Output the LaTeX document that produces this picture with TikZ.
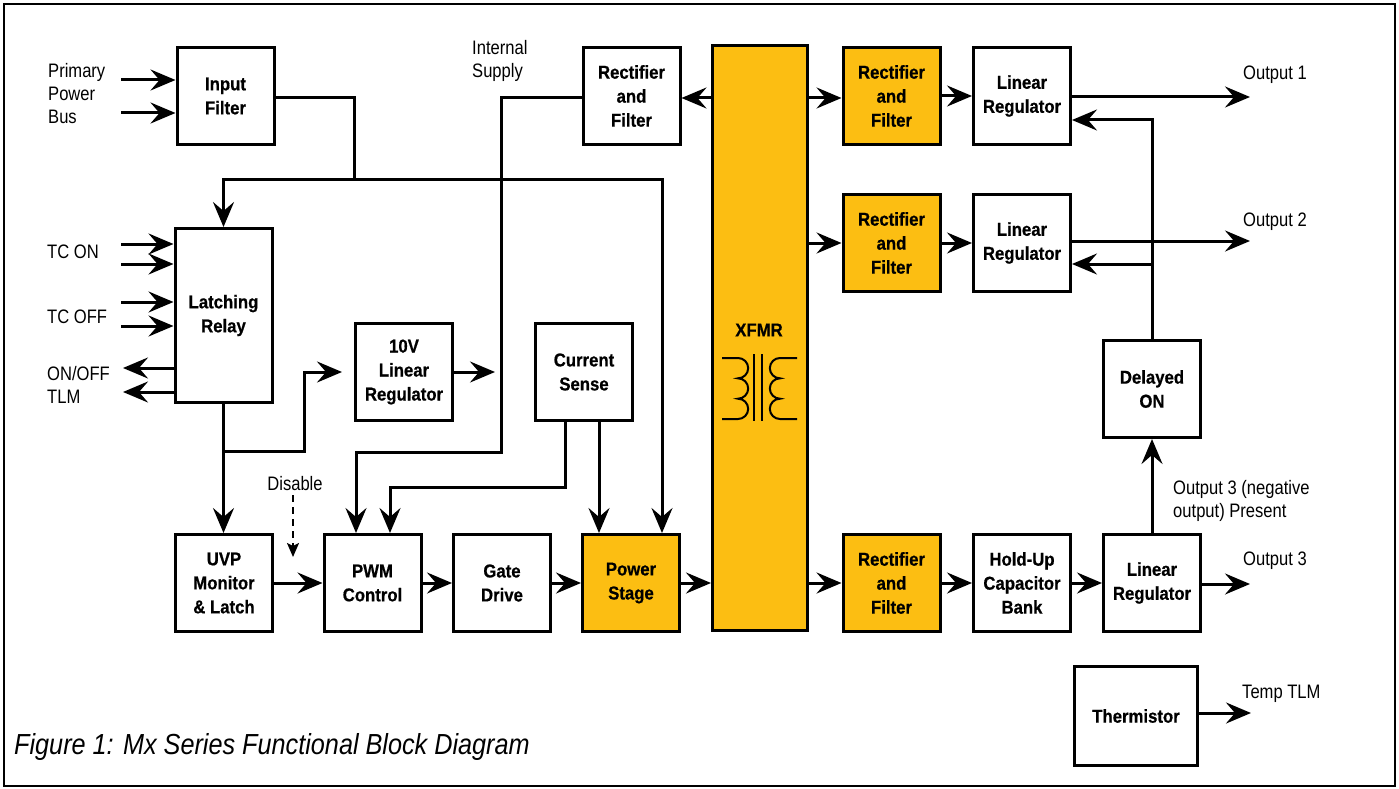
\documentclass[tikz,border=0pt]{standalone}
\usepackage{fontspec}
\setmainfont{Liberation Sans}[FakeStretch=0.85]
\newfontfamily\boxfont{Liberation Sans}[FakeStretch=0.9,FakeBold=0.6]
\newfontfamily\capfont{Liberation Sans}[FakeStretch=0.87]
\usetikzlibrary{arrows.meta}
\definecolor{xyellow}{RGB}{252,190,18}
\begin{document}
\begin{tikzpicture}[x=1pt,y=-1pt,
  blk/.style={draw, line width=3pt, fill=white, inner sep=0pt, align=center,
    minimum width=97pt, minimum height=97pt,
    font=\boxfont\bfseries\fontsize{18.6}{24}\selectfont},
  yblk/.style={blk, fill=xyellow},
  lbl/.style={inner sep=0pt, anchor=north west, align=left,
    font=\fontsize{19.5}{23}\selectfont},
  ln/.style={line width=3pt},
  arr/.style={line width=3pt, -{Stealth[length=25pt,width=21pt,inset=9pt]}},
  darr/.style={line width=2pt, dash pattern=on 7pt off 5pt,
    -{Stealth[length=14pt,width=12pt,inset=3pt]}},
  coil/.style={line width=2pt},
  ]
\useasboundingbox (0,0) rectangle (1399,789);
\draw[line width=2.3pt] (4.3,4.3) rectangle (1395,786);

% blocks
\node[blk] (inf) at (225.5,96) {Input\\Filter};
\node[blk, minimum height=174pt] (lr) at (223.5,315.5) {Latching\\Relay};
\node[blk] (ten) at (404,372) {10V\\Linear\\Regulator};
\node[blk] (cs) at (584,372) {Current\\Sense};
\node[blk] (uvp) at (224,583) {UVP\\Monitor\\\& Latch};
\node[blk] (pwm) at (372.5,583) {PWM\\Control};
\node[blk] (gd) at (502,583) {Gate\\Drive};
\node[yblk] (ps) at (631,583) {Power\\Stage};
\node[blk] (rfi) at (631.5,96) {Rectifier\\and\\Filter};
\node[yblk, minimum width=95pt, minimum height=585pt] (xf) at (760,338) {};
\node[font=\boxfont\bfseries\fontsize{18.6}{24}\selectfont, inner sep=0pt] (xft) at (759,330) {XFMR};
\node[yblk] (r1) at (891.5,96) {Rectifier\\and\\Filter};
\node[blk] (l1) at (1022,96) {Linear\\Regulator};
\node[yblk] (r2) at (891.5,243) {Rectifier\\and\\Filter};
\node[blk] (l2) at (1022,243) {Linear\\Regulator};
\node[yblk] (r3) at (891.5,583) {Rectifier\\and\\Filter};
\node[blk] (hu) at (1022,583) {Hold-Up\\Capacitor\\Bank};
\node[blk] (l3) at (1152,583) {Linear\\Regulator};
\node[blk] (don) at (1152,389) {Delayed\\ON};
\node[blk, minimum width=123pt, minimum height=99pt] (th) at (1136,716) {Thermistor};

% transformer symbol
\draw[coil] (722,358) -- (738,358)
  arc[start angle=-90,end angle=90,radius=10.17]
  arc[start angle=-90,end angle=90,radius=10.17]
  arc[start angle=-90,end angle=90,radius=10.17] -- (722,419);
\draw[coil] (797,358) -- (780,358)
  arc[start angle=-90,end angle=-270,radius=10.17]
  arc[start angle=-90,end angle=-270,radius=10.17]
  arc[start angle=-90,end angle=-270,radius=10.17] -- (797,419);
\draw[coil] (754,354) -- (754,421);
\draw[coil] (762,354) -- (762,421);

% labels
\node[lbl] (tpb) at (48,63) {Primary\\Power\\Bus};
\node[lbl] (ttcon) at (47,245) {TC ON};
\node[lbl] (ttcoff) at (47,310) {TC OFF};
\node[lbl] (tonoff) at (47,366) {ON/OFF\\TLM};
\node[lbl] (tint) at (472,40) {Internal\\Supply};
\node[lbl, anchor=north] (tdis) at (295,476) {Disable};
\node[lbl] (to1) at (1243,66) {Output 1};
\node[lbl] (to2) at (1243,213) {Output 2};
\node[lbl] (to3) at (1243,552) {Output 3};
\node[lbl] (tneg) at (1173,480) {Output 3 (negative\\output) Present};
\node[lbl] (ttemp) at (1242,685) {Temp TLM};
\node[lbl, font=\capfont\itshape\fontsize{29}{34}\selectfont] (cap) at (14,733) {Figure 1: Mx Series Functional Block Diagram};

% free ends
\coordinate (pb1) at (121,80);
\coordinate (pb2) at (121,113);
\coordinate (tc1) at (121,244);
\coordinate (tc2) at (121,264);
\coordinate (tc3) at (121,302);
\coordinate (tc4) at (121,326);
\coordinate (tlm1) at (123,368);
\coordinate (tlm2) at (123,392);
\coordinate (j1) at (354,179);
\coordinate (tenin) at (342,372);
\coordinate (tenout) at (495,372);
\coordinate (dis1) at (293,495);
\coordinate (dis2) at (293,557);
\coordinate (o1) at (1250,97);
\coordinate (o2) at (1250,241);
\coordinate (o3) at (1250,584);
\coordinate (tt) at (1251,713);

% input side
\draw[arr] (pb1) -- (pb1 -| inf.west);
\draw[arr] (pb2) -- (pb2 -| inf.west);
\draw[ln] (inf.east |- 0,98) -| (j1);
\draw[arr] (j1) -| (lr.north);
\draw[arr] (j1) -| ([xshift=31pt]ps.north);
\draw[arr] (tc1) -- (tc1 -| lr.west);
\draw[arr] (tc2) -- (tc2 -| lr.west);
\draw[arr] (tc3) -- (tc3 -| lr.west);
\draw[arr] (tc4) -- (tc4 -| lr.west);
\draw[arr] (tlm1 -| lr.west) -- (tlm1);
\draw[arr] (tlm2 -| lr.west) -- (tlm2);
\draw[arr] (lr.south) -- (lr.south |- uvp.north);
\draw[arr] (lr.south |- 0,451) -| (304,372) -- (tenin);
\draw[arr] (ten.east) -- (tenout);

% internal supply and current sense
\draw[arr] (rfi.west |- 0,98) -| (501,452) -| ([xshift=-16.5pt]pwm.north);
\draw[arr] ([xshift=-18.4pt]cs.south) -- ++(0,65.5) -| ([xshift=17.5pt]pwm.north);
\draw[arr] ([xshift=15pt]cs.south) -- ([xshift=-32pt]ps.north);

% main chain
\draw[arr] (uvp.east) -- (pwm.west);
\draw[arr] (pwm.east) -- (gd.west);
\draw[arr] (gd.east) -- (ps.west);
\draw[arr] (ps.east) -- (ps.east -| xf.west);
\draw[darr] (dis1) -- (dis2);

% secondary side
\draw[arr] (xf.west |- 0,98) -- (rfi.east |- 0,98);
\draw[arr] (xf.east |- 0,98) -- (r1.west |- 0,98);
\draw[arr] (xf.east |- r2.west) -- (r2.west);
\draw[arr] (xf.east |- r3.west) -- (r3.west);
\draw[arr] (r1.east) -- (l1.west);
\draw[arr] (r2.east) -- (l2.west);
\draw[arr] (r3.east) -- (hu.west);
\draw[arr] (hu.east) -- (l3.west);
\draw[arr] (l1.east |- o1) -- (o1);
\draw[arr] (l2.east |- o2) -- (o2);
\draw[arr] (l3.east |- o3) -- (o3);
\draw[arr] (don.north) |- (l1.east |- 0,120);
\draw[arr] (don.north |- 0,264) -- (l2.east |- 0,264);
\draw[arr] (l3.north) -- (don.south);
\draw[arr] (th.east |- tt) -- (tt);
\end{tikzpicture}
\end{document}
